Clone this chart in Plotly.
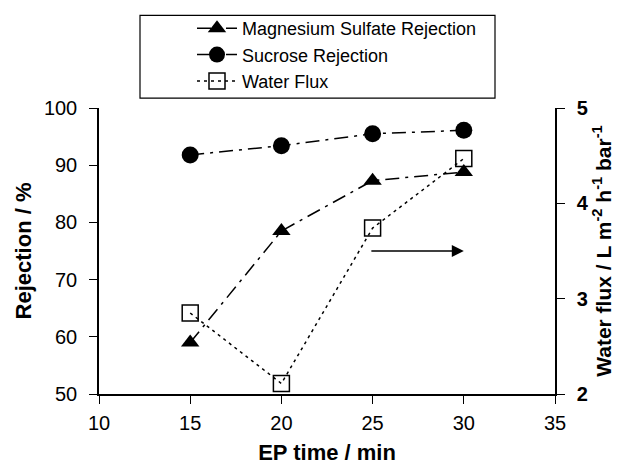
import plotly.graph_objects as go

ep_time = [15, 20, 25, 30]
mgso4_rejection = [59.0, 78.5, 87.3, 88.8]
sucrose_rejection = [91.8, 93.4, 95.5, 96.1]
water_flux = [2.85, 2.11, 3.74, 4.47]

x_ticks = [10, 15, 20, 25, 30, 35]
y_ticks = [50, 60, 70, 80, 90, 100]
y2_ticks = [2, 3, 4, 5]

FONT = "Liberation Sans, Arial, sans-serif"

fig = go.Figure()
fig.add_trace(go.Scatter(
    x=ep_time, y=mgso4_rejection, name="Magnesium Sulfate Rejection",
    mode="lines+markers",
    line=dict(color="black", width=1.5, dash="14px,6px,3px,6px"),
    marker=dict(symbol="triangle-up", size=16, color="black"),
))
fig.add_trace(go.Scatter(
    x=ep_time, y=sucrose_rejection, name="Sucrose Rejection",
    mode="lines+markers",
    line=dict(color="black", width=1.5, dash="14px,6px,3px,6px"),
    marker=dict(symbol="circle", size=17, color="black"),
))
fig.add_trace(go.Scatter(
    x=ep_time, y=water_flux, name="Water Flux", yaxis="y2",
    mode="lines+markers",
    line=dict(color="black", width=1.5, dash="3px,4px"),
    marker=dict(symbol="square-open", size=16, color="black",
                line=dict(width=1.5, color="black")),
))

# arrow pointing to the right axis
fig.add_annotation(
    x=30, y=3.5, xref="x", yref="y2",
    ax=24.85, ay=3.5, axref="x", ayref="y2",
    showarrow=True, arrowhead=2, arrowsize=1.6, arrowwidth=1.5,
    arrowcolor="black", text="",
)

# legend frame
fig.add_shape(
    type="rect", xref="paper", yref="paper",
    x0=(140 - 99) / 456, x1=(495 - 99) / 456,
    y0=(394 - 97) / 287, y1=(394 - 14) / 287,
    line=dict(color="black", width=1.2), fillcolor="white", layer="below",
)

tick_common = dict(showgrid=False, zeroline=False, tickcolor="black", automargin=False)

fig.update_layout(
    width=624, height=465,
    margin=dict(l=99, r=69, t=107, b=71),
    paper_bgcolor="white", plot_bgcolor="white",
    font=dict(family=FONT, size=18, color="black"),
    showlegend=True,
    legend=dict(
        x=(192 - 99) / 456, y=(394 - 10) / 287, xanchor="left", yanchor="top",
        bgcolor="rgba(0,0,0,0)", borderwidth=0,
        font=dict(family=FONT, size=18, color="black"),
        itemwidth=40, tracegroupgap=0,
    ),
    xaxis=dict(
        range=[10, 35], tickvals=x_ticks, ticks="outside", ticklen=8,
        showline=True, linecolor="black", linewidth=1.5,
        tickfont=dict(size=20), ticklabelstandoff=2, **tick_common,
        title=dict(text="<b>EP time / min</b>", font=dict(size=22), standoff=16),
    ),
    yaxis=dict(
        range=[50, 100], tickvals=y_ticks, ticks="outside", ticklen=8,
        showline=True, linecolor="black", linewidth=1.5,
        tickfont=dict(size=20), ticklabelstandoff=8, **tick_common,
        title=dict(text="<b>Rejection / %</b>", font=dict(size=22), standoff=6),
    ),
    yaxis2=dict(
        range=[2, 5], tickvals=y2_ticks, overlaying="y", side="right",
        ticks="outside", ticklen=8,
        showline=True, linecolor="black", linewidth=1.5,
        tickfont=dict(size=20, weight="bold"), ticklabelstandoff=8, **tick_common,
        title=dict(text="<b>Water flux / L m<sup>-2</sup> h<sup>-1</sup> bar<sup>-1</sup></b>",
                   font=dict(size=21), standoff=5),
    ),
    # inner halves of the crossing tick marks
    xaxis2=dict(range=[10, 35], tickvals=x_ticks, overlaying="x", anchor="y",
                side="bottom", ticks="inside", ticklen=4, showticklabels=False,
                showline=False, **tick_common),
    yaxis3=dict(range=[50, 100], tickvals=y_ticks, overlaying="y", anchor="x",
                side="left", ticks="inside", ticklen=4, showticklabels=False,
                showline=False, **tick_common),
    yaxis4=dict(range=[2, 5], tickvals=y2_ticks, overlaying="y", anchor="x",
                side="right", ticks="inside", ticklen=4, showticklabels=False,
                showline=False, **tick_common),
)

fig.write_html("out.html")
